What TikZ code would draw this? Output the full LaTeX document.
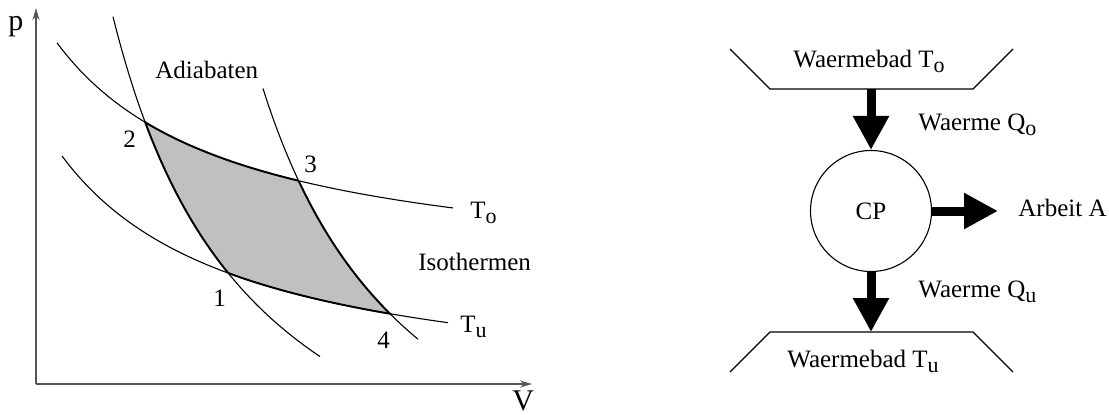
\documentclass[tikz,border=0pt]{standalone}
\usepackage{fontspec}
\setmainfont{Liberation Serif}
\usetikzlibrary{arrows.meta}
\definecolor{fillgray}{RGB}{192,192,192}
\definecolor{axisgray}{RGB}{85,85,85}
\newcommand{\lowsub}[1]{\raisebox{-2.6pt}{\fontsize{11}{13}\selectfont #1}}
\begin{document}
\begin{tikzpicture}[x=0.5pt,y=-0.5pt,
  curve/.style={line width=0.55pt},
  bound/.style={line width=0.95pt},
  axis/.style={line width=0.7pt, draw=axisgray, -{Stealth[length=6pt,width=3.5pt]}},
  lbl/.style={anchor=base west, inner sep=0pt, font=\fontsize{12.5}{15}\selectfont},
  big/.style={anchor=base west, inner sep=0pt, font=\fontsize{15}{18}\selectfont},
  blockarrow/.style={line width=4.5pt, -{Triangle[length=17pt,width=17pt]}},
  bathline/.style={line width=0.55pt}
]
\useasboundingbox (0,0) rectangle (1109,414);
\def\UI{281.8-422.94/(0.01*\x+1.2)}
\def\LI{401.3-446.4/(0.01*\x+1.2)}
\def\LA{591.3-821.3/(0.01*\x+0.3)}
\def\RA{602.7-837.35/(0.01*\x-1.0)}
\def\clipA{\clip plot[domain=0:620,samples=80] (\x,{\UI}) -- (620,600) -- (0,600) -- cycle;}
\def\clipB{\clip plot[domain=0:620,samples=80] (\x,{\LI}) -- (620,-500) -- (0,-500) -- cycle;}
\def\clipC{\clip plot[domain=60:620,samples=120] (\x,{\LA}) -- (700,461) -- (700,-500) -- (60,-500) -- cycle;}
\def\clipD{\clip plot[domain=180:620,samples=120] (\x,{\RA}) -- (620,700) -- (0,700) -- (0,-500) -- cycle;}

% shaded cycle
\begin{scope}
  \clipA \clipB \clipC \clipD
  \fill[fillgray] (0,-500) rectangle (700,700);
\end{scope}
\begin{scope}
  \clipC \clipD
  \draw[bound] plot[domain=100:460,samples=80] (\x,{\UI});
  \draw[bound] plot[domain=100:460,samples=80] (\x,{\LI});
\end{scope}
\begin{scope}
  \clipA \clipB
  \draw[bound] plot[domain=113:320,samples=100] (\x,{\LA});
  \draw[bound] plot[domain=263:418,samples=100] (\x,{\RA});
\end{scope}

% curves
\draw[curve] plot[domain=57:453,samples=70] (\x,{\UI});
\draw[curve] plot[domain=62:448,samples=70] (\x,{\LI});
\draw[curve] plot[domain=113:320,samples=80] (\x,{\LA});
\draw[curve] plot[domain=263:418,samples=80] (\x,{\RA});

% axes
\coordinate (O) at (36,384);
\coordinate (ytip) at (36,8);
\coordinate (xtip) at (532,384);
\draw[axis] (O) -- (ytip);
\draw[axis] (O) -- (xtip);

% labels left
\node[big] (lp) at (8,30) {p};
\node[big] (lV) at (512,410) {V};
\node[lbl] (lad) at (155,78) {Adiabaten};
\node[lbl] (l2) at (123,147) {2};
\node[lbl] (l3) at (304,172) {3};
\node[lbl] (l1) at (213,306) {1};
\node[lbl] (l4) at (377,348) {4};
\node[lbl] (lTo) at (470,218) {T\lowsub{o}};
\node[lbl] (lTu) at (460,332) {T\lowsub{u}};
\node[lbl] (liso) at (418,270) {Isothermen};

% right diagram
\draw[bathline] (730,49) -- (770,89) -- (973,89) -- (1013,49);
\draw[bathline] (730,372) -- (770,332) -- (973,332) -- (1013,372);
\coordinate (bo) at (871,89);
\coordinate (bu) at (871,332);
\coordinate (atip) at (998,211);
\node[draw, circle, minimum size=60.5pt, inner sep=0pt, line width=0.55pt,
      font=\fontsize{12.5}{15}\selectfont] (cp) at (871,211) {CP};
\draw[blockarrow] (bo) -- (cp.north);
\draw[blockarrow] (cp.east) -- (atip);
\draw[blockarrow] (cp.south) -- (bu);

\node[lbl] (bathO) at (793,67) {Waermebad T\lowsub{o}};
\node[lbl] (bathU) at (787,367) {Waermebad T\lowsub{u}};
\node[lbl] (qo) at (918,130) {Waerme Q\lowsub{o}};
\node[lbl] (qu) at (918,297) {Waerme Q\lowsub{u}};
\node[lbl] (arb) at (1018,216) {Arbeit A};
\end{tikzpicture}
\end{document}
